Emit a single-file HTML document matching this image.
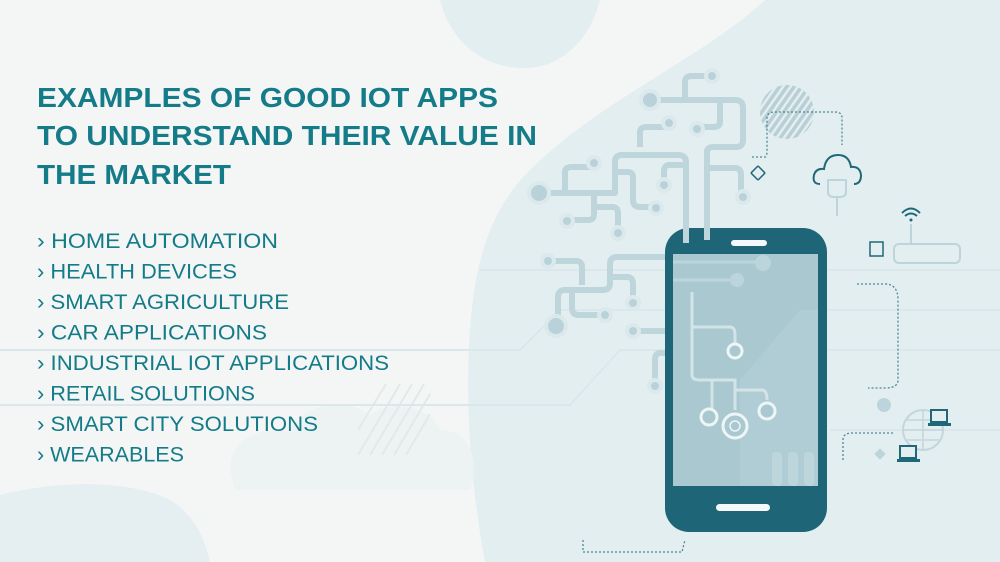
<!DOCTYPE html>
<html><head><meta charset="utf-8"><style>
html,body{margin:0;padding:0;width:1000px;height:562px;overflow:hidden;background:#f4f5f5}
svg{display:block}
text{font-family:"Liberation Sans",sans-serif;fill:#147b89}
</style></head><body>
<svg width="1000" height="562" viewBox="0 0 1000 562">
<rect width="1000" height="562" fill="#f4f5f5"/>
<path d="M765 0 L1000 0 L1000 562 L485 562 C470 480 465 400 470 330 C475 260 490 210 530 170 C600 100 700 60 765 0 Z" fill="#e3eef0"/>
<path d="M440 0 L600 0 C590 40 560 70 520 68 C480 66 450 40 440 0 Z" fill="#e3eef0"/>
<path d="M0 495 C60 480 130 480 170 500 C195 515 205 540 210 562 L0 562 Z" fill="#e5eef0"/>
<path d="M230 470 C230 440 260 425 290 432 C300 405 345 395 370 415 C390 400 430 405 440 430 C470 430 480 460 470 490 L235 490 Z" fill="#edf2f3"/>
<g stroke="#e3e9eb" stroke-width="2">
<line x1="358" y1="455" x2="400" y2="384"/><line x1="370" y1="455" x2="412" y2="384"/><line x1="382" y1="455" x2="424" y2="384"/><line x1="394" y1="455" x2="430" y2="394"/><line x1="406" y1="455" x2="430" y2="414"/><line x1="358" y1="430" x2="386" y2="384"/>
</g>
<g stroke="#dbe8eb" stroke-width="2" fill="none">
<path d="M0 405 L570 405 L620 350 L1000 350"/>
<path d="M0 350 L520 350 L560 310 L1000 310"/>
<path d="M480 270 L1000 270"/>
<path d="M830 430 L1000 430"/>
</g>
<!-- circuit tree -->
<g stroke="#bdd5db" stroke-width="6" fill="none" stroke-linejoin="round">
<path d="M707 238 L707 152 Q707 147 714 147 L736 147 Q743 147 743 140 L743 108 Q743 100 735 100 L650 100"/>
<path d="M685 97 L685 82 Q685 76 692 76 L712 76"/>
<path d="M640 147 L640 132 Q640 127 647 127 L669 127"/>
<path d="M720 103 L720 122 Q720 127 713 127 L697 127"/>
<path d="M686 243 L686 162 Q686 155 678 155 L622 155 Q615 155 615 162 L615 193 L539 193"/>
<path d="M565 190 L565 172 Q565 167 572 167 L594 167"/>
<path d="M686 165 L669 165 Q664 165 664 172 L664 185"/>
<path d="M615 172 L628 172 Q633 172 633 178 L633 200 Q633 207 640 207 L656 207"/>
<path d="M707 168 L735 168 Q741 168 741 175 L741 196"/>
<path d="M594 193 L594 214 Q594 220 588 220 L567 220"/>
<path d="M594 207 L612 207 Q618 207 618 213 L618 232"/>
<path d="M548 261 L576 261 Q582 261 582 267 L582 285"/>
<path d="M672 257 L617 257 Q610 257 610 264 L610 283 Q610 290 603 290 L565 290 Q558 290 558 297 L558 326"/>
<path d="M572 290 L572 308 Q572 315 579 315 L604 315"/>
<path d="M610 277 L627 277 Q633 277 633 284 L633 303"/>
<path d="M633 331 L664 331 Q670 331 670 338 L670 353 L660 353 Q655 353 655 360 L655 386"/>
</g>
<g fill="#b9d2d9" stroke="#dbe9ec" stroke-width="4">
<circle cx="650" cy="100" r="9"/><circle cx="712" cy="76" r="6"/><circle cx="669" cy="123" r="6"/><circle cx="697" cy="129" r="6"/>
<circle cx="594" cy="163" r="6"/><circle cx="539" cy="193" r="10"/><circle cx="567" cy="221" r="6"/><circle cx="618" cy="233" r="6"/>
<circle cx="656" cy="208" r="6"/><circle cx="664" cy="185" r="6"/><circle cx="743" cy="197" r="6"/>
<circle cx="548" cy="261" r="6"/><circle cx="556" cy="326" r="10"/><circle cx="605" cy="315" r="6"/><circle cx="633" cy="303" r="6"/>
<circle cx="633" cy="331" r="6"/><circle cx="655" cy="386" r="6"/>
</g>
<defs><pattern id="st" width="6" height="6" patternUnits="userSpaceOnUse" patternTransform="rotate(35)"><rect width="6" height="6" fill="#b8cfd6"/><rect width="2.5" height="6" fill="#e3eef0"/></pattern></defs>
<circle cx="787" cy="112" r="27" fill="url(#st)"/>
<path d="M752 157 L765 157 Q767 157 767 150 L767 118 Q767 112 775 112 L835 112 Q842 112 842 118 L842 145" stroke="#4f8893" stroke-width="1.3" stroke-dasharray="2 2" fill="none"/>
<rect x="753" y="168" width="10" height="10" transform="rotate(45 758 173)" fill="none" stroke="#1f6877" stroke-width="1.5" rx="1"/>
<path d="M820 184 Q812 184 814 175 Q816 168 824 169 Q826 155 838 155 Q849 155 851 167 Q860 166 861 175 Q861 184 854 184" fill="none" stroke="#1f6877" stroke-width="2"/>
<path d="M828 180 L846 180 L846 192 Q846 197 840 197 L834 197 Q828 197 828 192 Z M837 197 L837 216" fill="none" stroke="#bcd4db" stroke-width="2"/>
<path d="M902 213 Q911 204 920 213 M905 216 Q911 211 917 216" stroke="#1f6877" stroke-width="2" fill="none"/>
<circle cx="911" cy="220" r="1.5" fill="#1f6877"/>
<path d="M911 224 L911 244" stroke="#bcd4db" stroke-width="2"/>
<rect x="894" y="244" width="66" height="19" rx="5" fill="none" stroke="#bcd4db" stroke-width="2"/>
<rect x="870" y="242" width="13" height="14" fill="none" stroke="#1f6877" stroke-width="1.5"/>
<path d="M857 284 L885 284 Q898 284 898 300 L898 380 Q898 388 885 388 L868 388" stroke="#4f8893" stroke-width="1.3" stroke-dasharray="2 2" fill="none"/>
<path d="M843 460 L843 440 Q843 433 852 433 L895 433" stroke="#4f8893" stroke-width="1.3" stroke-dasharray="2 2" fill="none"/>
<path d="M583 540 L583 552 L682 552 L685 540" stroke="#4f8893" stroke-width="1.3" stroke-dasharray="2 2" fill="none"/>
<circle cx="923" cy="430" r="20" fill="none" stroke="#c3d6dc" stroke-width="2"/>
<path d="M903 430 L943 430 M923 410 L923 450 M907 420 L939 420 M907 440 L939 440" stroke="#c3d6dc" stroke-width="1.5"/>
<rect x="931" y="410" width="16" height="12" fill="#e3eef0" stroke="#1f6877" stroke-width="2"/><rect x="928" y="423" width="23" height="3" fill="#1f6877"/>
<rect x="900" y="446" width="16" height="12" fill="#e3eef0" stroke="#1f6877" stroke-width="2"/><rect x="897" y="459" width="23" height="3" fill="#1f6877"/>
<circle cx="884" cy="405" r="7" fill="#bcd4db"/>
<rect x="876" y="450" width="8" height="8" transform="rotate(45 880 454)" fill="#bcd4db"/>
<!-- phone -->
<rect x="665" y="228" width="162" height="304" rx="24" fill="#1e6677"/>
<rect x="673" y="254" width="145" height="232" fill="#a9c8d0"/>
<path d="M740 380 L800 310 L818 310 L818 486 L740 486 Z" fill="#b5d1d8" opacity="0.6"/>
<g fill="#bdd6dc"><rect x="772" y="452" width="10" height="34" rx="4"/><rect x="788" y="452" width="10" height="34" rx="4"/><rect x="804" y="452" width="10" height="34" rx="4"/></g>
<path d="M673 262 L760 262 M673 280 L735 280" stroke="#bcd4db" stroke-width="3"/>
<circle cx="763" cy="263" r="8" fill="#bcd4db"/><circle cx="737" cy="280" r="7" fill="#bcd4db"/>
<g stroke="#d2e4e8" stroke-width="3" fill="none">
<path d="M692 292 L692 375 Q692 380 700 380 L735 380 L735 410"/>
<path d="M692 327 L730 327 Q735 327 735 335 L735 345"/>
<path d="M712 380 L712 420"/><path d="M735 390 L762 390 Q767 390 767 400"/>
</g>
<g fill="#a9c8d0" stroke="#eef5f6" stroke-width="3">
<circle cx="735" cy="351" r="7"/><circle cx="709" cy="417" r="8"/><circle cx="735" cy="426" r="12"/><circle cx="767" cy="411" r="8"/>
</g>
<circle cx="735" cy="426" r="5" fill="#a9c8d0" stroke="#eef5f6" stroke-width="1.5"/>
<rect x="731" y="240" width="36" height="6" rx="3" fill="#f4f8f9"/>
<rect x="716" y="504" width="54" height="7" rx="3.5" fill="#f4f8f9"/>
<path d="M686 228 L686 243 M707 228 L707 240" stroke="#bdd5db" stroke-width="6"/>
<g font-weight="bold" font-size="28">
<text x="37" y="107" textLength="461" lengthAdjust="spacingAndGlyphs">EXAMPLES OF GOOD IOT APPS</text>
<text x="37" y="145" textLength="500" lengthAdjust="spacingAndGlyphs">TO UNDERSTAND THEIR VALUE IN</text>
<text x="37" y="184" textLength="194" lengthAdjust="spacingAndGlyphs">THE MARKET</text>
</g>
<g font-size="21">
<text x="37" y="248" textLength="241" lengthAdjust="spacingAndGlyphs">› HOME AUTOMATION</text>
<text x="37" y="278.5" textLength="200" lengthAdjust="spacingAndGlyphs">› HEALTH DEVICES</text>
<text x="37" y="309" textLength="252" lengthAdjust="spacingAndGlyphs">› SMART AGRICULTURE</text>
<text x="37" y="339.5" textLength="230" lengthAdjust="spacingAndGlyphs">› CAR APPLICATIONS</text>
<text x="37" y="370" textLength="352" lengthAdjust="spacingAndGlyphs">› INDUSTRIAL IOT APPLICATIONS</text>
<text x="37" y="400.5" textLength="218" lengthAdjust="spacingAndGlyphs">› RETAIL SOLUTIONS</text>
<text x="37" y="431" textLength="281" lengthAdjust="spacingAndGlyphs">› SMART CITY SOLUTIONS</text>
<text x="37" y="461.5" textLength="147" lengthAdjust="spacingAndGlyphs">› WEARABLES</text>
</g>
</svg>
</body></html>
